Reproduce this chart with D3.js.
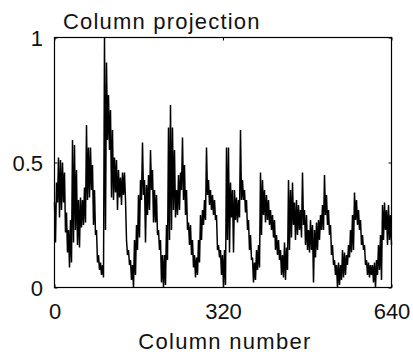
<!DOCTYPE html>
<html><head><meta charset="utf-8">
<script src="https://cdn.jsdelivr.net/npm/d3@7"></script>
<style>
body{margin:0;background:#fff}
text{font-family:"Liberation Sans",Arial,sans-serif;fill:#111}
</style>
</head><body><svg id="c" width="413" height="355"></svg>
<script>
const title = "Column projection";
const xLabel = "Column number";
const xTicks = [0, 320, 640];
const xTickLabels = ["0", "320", "640"];
const yTicks = [0, 0.5, 1];
const yTickLabels = ["0", "0.5", "1"];

// envelope readings (high / low) of the column projection, left to right
const upper = [
0.34,0.42,0.52,0.51,0.50,0.46,0.30,0.23,0.27,0.59,0.57,0.47,0.35,0.36,0.35,0.40,0.65,0.56,0.56,0.49,
0.39,0.23,0.13,0.10,0.09,1.00,0.90,0.77,0.71,0.63,0.52,0.51,0.47,0.44,0.46,0.46,0.19,0.15,0.11,0.09,
0.19,0.25,0.37,0.43,0.58,0.43,0.41,0.45,0.55,0.47,0.39,0.37,0.23,0.19,0.13,0.13,0.25,0.64,0.73,0.64,
0.55,0.39,0.45,0.46,0.60,0.49,0.39,0.26,0.25,0.19,0.13,0.12,0.19,0.29,0.31,0.35,0.56,0.43,0.39,0.37,
0.35,0.29,0.17,0.15,0.13,0.15,0.56,0.56,0.42,0.39,0.39,0.36,0.35,0.63,0.43,0.39,0.35,0.27,0.21,0.12,
0.10,0.15,0.17,0.46,0.43,0.39,0.37,0.35,0.31,0.29,0.27,0.21,0.19,0.15,0.13,0.18,0.16,0.43,0.39,0.42,
0.34,0.35,0.33,0.31,0.46,0.31,0.29,0.23,0.27,0.25,0.23,0.26,0.27,0.29,0.33,0.45,0.37,0.31,0.25,0.17,
0.11,0.09,0.10,0.09,0.15,0.14,0.13,0.17,0.23,0.29,0.38,0.35,0.31,0.27,0.21,0.17,0.11,0.10,0.09,0.09,
0.10,0.11,0.17,0.21,0.33,0.34,0.31,0.33,0.29
];
const lower = [
0.18,0.34,0.28,0.31,0.34,0.22,0.14,0.08,0.10,0.18,0.23,0.17,0.16,0.24,0.25,0.26,0.35,0.36,0.39,0.25,
0.21,0.10,0.07,0.05,0.04,0.23,0.59,0.55,0.36,0.35,0.38,0.31,0.36,0.33,0.37,0.35,0.13,0.09,0.03,0.00,
0.05,0.15,0.20,0.35,0.37,0.18,0.29,0.31,0.39,0.26,0.26,0.21,0.15,0.02,0.00,0.01,0.11,0.19,0.23,0.31,
0.28,0.29,0.31,0.39,0.35,0.29,0.23,0.17,0.13,0.08,0.04,0.05,0.10,0.19,0.25,0.27,0.37,0.33,0.31,0.29,
0.27,0.15,0.12,0.05,0.00,0.01,0.19,0.14,0.28,0.14,0.27,0.26,0.28,0.35,0.35,0.30,0.23,0.15,0.11,0.02,
0.03,0.07,0.08,0.21,0.29,0.26,0.27,0.25,0.23,0.20,0.15,0.13,0.11,0.05,0.04,0.03,0.07,0.15,0.20,0.25,
0.19,0.21,0.23,0.20,0.25,0.17,0.15,0.14,0.15,0.02,0.12,0.15,0.19,0.23,0.23,0.29,0.25,0.21,0.13,0.09,
0.05,0.00,0.01,0.03,0.04,0.05,0.09,0.12,0.14,0.15,0.27,0.25,0.23,0.17,0.15,0.09,0.05,0.04,0.05,0.02,
0.00,0.05,0.07,0.03,0.19,0.23,0.17,0.19,0.17
];

const projection = upper.flatMap((u, j) => [u, lower[j]]);
const columns = projection.map((_, i) => i * 640 / (projection.length - 1));

const L = 54.5, R = 391.5, T = 37.5, B = 287.5;
const x = d3.scaleLinear().domain([0, 640]).range([L, R]);
const y = d3.scaleLinear().domain([0, 1]).range([B, T]);
const svg = d3.select("#c");

// data line
svg.append("path")
  .datum(projection.map((v, i) => [columns[i], v]))
  .attr("fill", "none").attr("stroke", "#000").attr("stroke-width", 1.5)
  .attr("stroke-linejoin", "miter")
  .attr("d", d3.line().x(d => x(d[0])).y(d => y(d[1])));

// axes
const fs = "22px";
const gx = svg.append("g").attr("transform", `translate(0,${B})`)
  .call(d3.axisBottom(x).tickValues(xTicks).tickFormat((d, i) => xTickLabels[i]).tickSize(-3).tickPadding(16));
const gy = svg.append("g").attr("transform", `translate(${L},0)`)
  .call(d3.axisLeft(y).tickValues(yTicks).tickFormat((d, i) => yTickLabels[i]).tickSize(-3).tickPadding(11.5));
const gt = svg.append("g").attr("transform", `translate(0,${T})`)
  .call(d3.axisTop(x).tickValues(xTicks).tickFormat("").tickSize(-3));
const gr = svg.append("g").attr("transform", `translate(${R},0)`)
  .call(d3.axisRight(y).tickValues(yTicks).tickFormat("").tickSize(-3));
[gx, gy, gt, gr].forEach(g => {
  g.select(".domain").remove();
  g.selectAll("line").attr("stroke", "#000");
  g.selectAll("text").attr("font-size", fs).attr("font-family", '"Liberation Sans",Arial,sans-serif').attr("fill", "#111");
});
gy.selectAll("text").attr("dy", "0.38em");

// box
svg.append("rect").attr("x", L).attr("y", T).attr("width", R - L).attr("height", B - T)
  .attr("fill", "none").attr("stroke", "#000").attr("stroke-width", 1.2);

// titles
svg.append("text").attr("x", 63).attr("y", 29).attr("font-size", fs)
  .attr("letter-spacing", "1.2px").text(title);
svg.append("text").attr("x", (L + R) / 2 + 2).attr("y", 349).attr("text-anchor", "middle")
  .attr("font-size", fs).attr("letter-spacing", "1.3px").text(xLabel);
</script>
</body></html>
